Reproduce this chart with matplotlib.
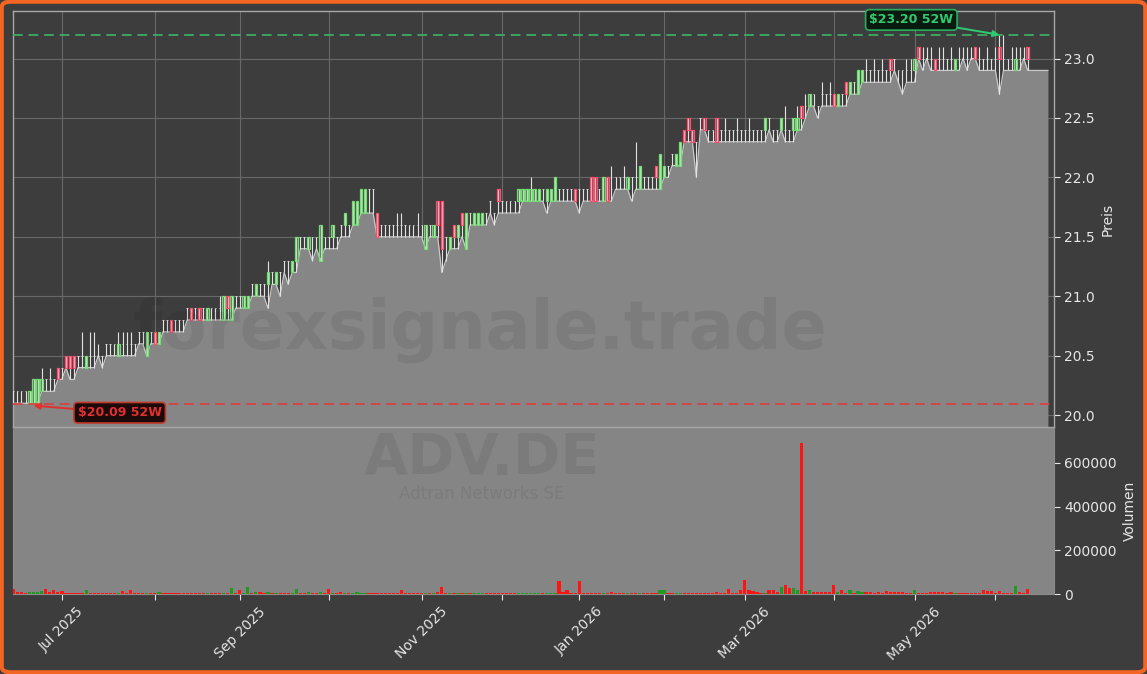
import numpy as np
import pandas as pd
import matplotlib
matplotlib.use('Agg')
import matplotlib.pyplot as plt
from matplotlib.patches import FancyBboxPatch
from matplotlib.ticker import FuncFormatter

# ---------------- data ----------------
holidays = ['2025-12-24', '2025-12-25', '2025-12-26', '2025-12-31',
            '2026-01-01', '2026-04-03', '2026-04-06', '2026-05-01']
dates = pd.bdate_range('2025-06-13', '2026-06-18')
dates = dates[~dates.isin(pd.to_datetime(holidays))]

opens = [
 20.2,20.2,20.2,20.2,20.1,20.1,20.1,20.2,20.3,20.3,
 20.3,20.4,20.4,20.5,20.5,20.5,20.5,20.5,20.4,20.5,
 20.5,20.5,20.5,20.6,20.6,20.6,20.5,20.6,20.6,20.6,
 20.6,20.7,20.7,20.5,20.7,20.7,20.6,20.8,20.8,20.8,
 20.8,20.8,20.8,20.9,20.9,20.9,20.9,20.9,20.8,20.9,
 20.9,20.9,20.8,21.0,20.8,21.0,21.0,20.9,20.9,21.1,
 21.0,21.1,21.1,21.1,21.2,21.1,21.2,21.3,21.3,21.2,
 21.3,21.5,21.5,21.4,21.5,21.5,21.3,21.5,21.5,21.5,
 21.5,21.6,21.6,21.6,21.6,21.6,21.7,21.7,21.9,21.9,
 21.7,21.6,21.6,21.6,21.6,21.6,21.6,21.6,21.6,21.6,
 21.6,21.6,21.4,21.6,21.5,21.8,21.8,21.5,21.4,21.6,
 21.5,21.7,21.4,21.7,21.6,21.6,21.6,21.7,21.8,21.7,
 21.9,21.8,21.8,21.8,21.8,21.8,21.8,21.8,21.8,21.8,
 21.8,21.9,21.8,21.8,21.8,21.9,21.9,21.9,21.9,21.9,
 21.9,21.9,21.9,22.0,22.0,21.9,21.8,22.0,21.9,22.0,
 22.0,22.0,21.9,22.0,22.0,21.9,22.0,22.0,22.0,22.1,
 21.9,22.0,22.1,22.2,22.1,22.1,22.4,22.5,22.4,22.3,
 22.5,22.5,22.4,22.4,22.5,22.4,22.4,22.4,22.4,22.4,
 22.4,22.4,22.4,22.4,22.4,22.4,22.4,22.5,22.4,22.4,
 22.4,22.4,22.4,22.4,22.4,22.6,22.6,22.6,22.7,22.6,
 22.7,22.7,22.7,22.7,22.6,22.7,22.8,22.7,22.8,22.7,
 22.8,22.9,22.9,22.9,22.9,22.9,22.9,23.0,23.0,22.9,
 22.9,22.9,22.9,22.9,23.1,23.0,23.0,23.0,23.0,23.0,
 23.0,23.0,23.0,22.9,23.0,23.0,23.0,23.0,23.1,23.0,
 23.0,23.0,23.0,23.0,23.1,23.0,23.0,23.0,22.9,23.0,
 23.0,23.1,22.9,22.9,22.9,22.9,22.9]
highs = [
 20.2,20.2,20.2,20.2,20.2,20.3,20.3,20.4,20.3,20.4,
 20.3,20.4,20.4,20.5,20.5,20.5,20.5,20.7,20.5,20.7,
 20.7,20.6,20.5,20.6,20.6,20.6,20.7,20.7,20.7,20.7,
 20.6,20.7,20.7,20.7,20.7,20.7,20.7,20.8,20.8,20.8,
 20.8,20.8,20.8,20.9,20.9,20.9,20.9,20.9,20.9,20.9,
 20.9,21.0,21.0,21.0,21.0,21.0,21.0,21.0,21.0,21.1,
 21.1,21.1,21.1,21.3,21.2,21.2,21.2,21.3,21.3,21.3,
 21.5,21.5,21.5,21.5,21.5,21.5,21.6,21.5,21.5,21.6,
 21.5,21.6,21.7,21.6,21.8,21.8,21.9,21.9,21.9,21.9,
 21.7,21.6,21.6,21.6,21.6,21.7,21.7,21.6,21.6,21.6,
 21.7,21.6,21.6,21.6,21.6,21.8,21.8,21.5,21.5,21.6,
 21.6,21.7,21.7,21.7,21.7,21.7,21.7,21.7,21.8,21.7,
 21.9,21.8,21.8,21.8,21.8,21.9,21.9,21.9,22.0,21.9,
 21.9,21.9,21.9,21.9,22.0,21.9,21.9,21.9,21.9,21.9,
 21.9,21.9,21.9,22.0,22.0,21.9,22.0,22.0,22.1,22.0,
 22.0,22.1,22.0,22.0,22.3,22.1,22.0,22.0,22.0,22.1,
 22.2,22.1,22.1,22.2,22.2,22.3,22.4,22.5,22.4,22.3,
 22.5,22.5,22.4,22.4,22.5,22.4,22.5,22.4,22.4,22.5,
 22.4,22.4,22.5,22.4,22.4,22.4,22.5,22.5,22.4,22.4,
 22.5,22.6,22.4,22.5,22.6,22.6,22.7,22.7,22.7,22.6,
 22.8,22.7,22.8,22.7,22.7,22.7,22.8,22.8,22.8,22.9,
 22.9,23.0,22.9,23.0,22.9,23.0,22.9,23.0,23.0,22.9,
 22.9,23.0,23.0,23.0,23.1,23.1,23.1,23.1,23.0,23.1,
 23.1,23.0,23.1,23.0,23.1,23.1,23.1,23.1,23.1,23.1,
 23.0,23.1,23.0,23.1,23.2,23.2,23.0,23.1,23.1,23.1,
 23.1,23.1,22.9,22.9,22.9,22.9,22.9]
lows = [
 20.1,20.1,20.1,20.1,20.1,20.09,20.1,20.2,20.2,20.2,
 20.2,20.3,20.3,20.4,20.3,20.3,20.4,20.4,20.4,20.4,
 20.4,20.5,20.4,20.5,20.5,20.5,20.5,20.5,20.5,20.5,
 20.5,20.6,20.6,20.5,20.6,20.6,20.6,20.7,20.7,20.7,
 20.7,20.7,20.7,20.8,20.8,20.8,20.8,20.8,20.8,20.8,
 20.8,20.8,20.8,20.8,20.8,20.9,20.9,20.9,20.9,21.0,
 21.0,21.0,21.0,20.9,21.1,21.1,21.0,21.2,21.1,21.2,
 21.2,21.4,21.4,21.4,21.3,21.4,21.3,21.4,21.4,21.4,
 21.4,21.5,21.5,21.5,21.6,21.6,21.7,21.7,21.7,21.7,
 21.5,21.5,21.5,21.5,21.5,21.5,21.5,21.5,21.5,21.5,
 21.5,21.5,21.4,21.5,21.5,21.5,21.2,21.3,21.4,21.4,
 21.4,21.5,21.4,21.6,21.6,21.6,21.6,21.6,21.7,21.6,
 21.7,21.7,21.7,21.7,21.7,21.7,21.8,21.8,21.8,21.8,
 21.8,21.8,21.7,21.8,21.8,21.8,21.8,21.8,21.8,21.8,
 21.7,21.8,21.8,21.8,21.8,21.8,21.8,21.8,21.8,21.9,
 21.9,21.9,21.9,21.8,21.9,21.9,21.9,21.9,21.9,21.9,
 21.9,22.0,22.0,22.1,22.1,22.1,22.3,22.3,22.3,22.0,
 22.4,22.4,22.3,22.3,22.3,22.3,22.3,22.3,22.3,22.3,
 22.3,22.3,22.3,22.3,22.3,22.3,22.3,22.4,22.3,22.3,
 22.4,22.3,22.3,22.3,22.4,22.4,22.5,22.6,22.6,22.5,
 22.6,22.6,22.6,22.6,22.6,22.6,22.6,22.7,22.7,22.7,
 22.8,22.8,22.8,22.8,22.8,22.8,22.8,22.8,22.9,22.8,
 22.7,22.8,22.8,22.8,23.0,22.9,23.0,22.9,22.9,22.9,
 22.9,22.9,22.9,22.9,22.9,23.0,22.9,23.0,23.0,22.9,
 22.9,22.9,22.9,22.9,22.7,22.9,22.9,22.9,22.9,22.9,
 23.0,22.9,22.9,22.9,22.9,22.9,22.9]
closes = [
 20.2,20.2,20.2,20.2,20.2,20.3,20.3,20.3,20.3,20.3,
 20.3,20.3,20.4,20.4,20.4,20.4,20.5,20.5,20.5,20.5,
 20.5,20.5,20.5,20.6,20.6,20.6,20.6,20.6,20.6,20.6,
 20.6,20.7,20.7,20.7,20.7,20.6,20.7,20.8,20.8,20.7,
 20.8,20.8,20.8,20.9,20.8,20.9,20.8,20.9,20.9,20.9,
 20.9,20.9,21.0,20.9,21.0,21.0,21.0,21.0,21.0,21.1,
 21.1,21.1,21.1,21.2,21.2,21.2,21.2,21.3,21.3,21.3,
 21.5,21.5,21.5,21.5,21.5,21.5,21.6,21.5,21.5,21.6,
 21.5,21.6,21.7,21.6,21.8,21.8,21.9,21.9,21.9,21.9,
 21.5,21.6,21.6,21.6,21.6,21.6,21.6,21.6,21.6,21.6,
 21.6,21.6,21.6,21.6,21.6,21.6,21.4,21.5,21.5,21.5,
 21.6,21.6,21.7,21.7,21.7,21.7,21.7,21.7,21.8,21.7,
 21.8,21.8,21.8,21.8,21.8,21.9,21.9,21.9,21.9,21.9,
 21.9,21.9,21.9,21.9,22.0,21.9,21.9,21.9,21.9,21.8,
 21.9,21.9,21.9,21.8,21.8,21.9,22.0,21.8,21.9,22.0,
 22.0,22.0,22.0,22.0,22.0,22.1,22.0,22.0,22.0,22.0,
 22.2,22.1,22.1,22.2,22.2,22.3,22.3,22.4,22.3,22.3,
 22.5,22.4,22.4,22.4,22.3,22.4,22.4,22.4,22.4,22.4,
 22.4,22.4,22.4,22.4,22.4,22.4,22.5,22.5,22.4,22.4,
 22.5,22.4,22.4,22.5,22.5,22.5,22.6,22.7,22.7,22.6,
 22.7,22.7,22.7,22.6,22.7,22.7,22.7,22.8,22.8,22.9,
 22.9,22.9,22.9,22.9,22.9,22.9,22.9,22.9,23.0,22.9,
 22.9,22.9,22.9,23.0,23.0,23.0,23.0,23.0,22.9,23.0,
 23.0,23.0,23.0,23.0,23.0,23.0,23.0,23.0,23.0,23.0,
 23.0,23.0,23.0,23.0,23.0,23.0,23.0,23.0,23.0,23.0,
 23.0,23.0,22.9,22.9,22.9,22.9,22.9]
volumes = [
 25000,8000,8000,6000,9000,10000,10000,14000,21000,8000,
 20000,10000,12000,6000,5000,5000,5000,5000,20000,6000,
 4000,4000,4000,5000,4000,4000,6000,12000,4000,20000,
 5000,4000,4000,4000,5000,5000,10000,4000,3000,5000,
 3000,4000,3000,3000,3000,5000,3000,3000,4000,3000,
 3000,3000,5000,3000,26000,5000,17000,5000,31000,4000,
 7000,7000,4000,9000,3000,3000,3000,3000,5000,4000,
 24000,4000,3000,10000,4000,4000,7000,3000,22000,3000,
 3000,7000,3000,3000,4000,9000,3000,6000,6000,6000,
 6000,3000,4000,3000,3000,3000,19000,4000,4000,4000,
 4000,3000,4000,3000,5000,8000,31000,5000,4000,3000,
 4000,3000,5000,3000,4000,4000,4000,3000,3000,3000,
 3000,3000,3000,3000,3000,3000,3000,3000,3000,3000,
 3000,3000,4000,4000,4000,58000,8000,17000,6000,5000,
 58000,5000,4000,4000,4000,3000,3000,4000,9000,3000,
 5000,4000,5000,4000,6000,5000,5000,3000,5000,6000,
 17000,17000,4000,3000,5000,4000,4000,3000,5000,3000,
 3000,4000,3000,4000,8000,4000,5000,24000,4000,3000,
 17000,62000,17000,15000,10000,6000,6000,17000,17000,8000,
 31000,40000,27000,26000,17000,691000,12000,17000,10000,10000,
 10000,8000,8000,40000,8000,20000,6000,17000,6000,14000,
 8000,8000,8000,6000,8000,5000,14000,8000,8000,8000,
 8000,6000,4000,20000,4000,4000,3000,8000,8000,8000,
 8000,6000,8000,5000,4000,6000,6000,6000,6000,6000,
 17000,14000,12000,5000,14000,5000,4000,6000,37000,10000,
 5000,24000,0,0,0,0,0]

high_52w = 23.20
low_52w = 20.09
ticker = 'ADV.DE'
company = 'Adtran Networks SE'
watermark = 'forexsignale.trade'

# ---------------- styling ----------------
BG = '#3d3d3d'
FILL = '#868686'
TXT = '#e6e6e6'
UP_EDGE = '#72dd72'
UP_FACE = (0.62, 0.85, 0.62, 0.35)
DN_EDGE = '#ff4d6d'
DN_FACE = (0.95, 0.55, 0.65, 0.35)
WICK = '#e2e2e2'

o = np.array(opens); h = np.array(highs); l = np.array(lows); c = np.array(closes)
v = np.array(volumes)
n = len(dates)
x = np.arange(n)

W, H = 1147, 674
fig = plt.figure(figsize=(W / 100, H / 100), dpi=100, facecolor=BG)
ax = fig.add_axes([13 / W, 1 - 427 / H, 1041 / W, 416 / H])
axv = fig.add_axes([13 / W, 1 - 594 / H, 1041 / W, 166 / H], sharex=ax)
ax.set_facecolor(BG)
axv.set_facecolor('#858585')

ymin, ymax = 19.90, 23.40
# area under the low line
ax.fill_between(x, l, ymin, color=FILL, zorder=2, lw=0)
ax.plot(x, l, color='#c9c9c9', lw=0.9, zorder=2.5)

# candles
up = c > o
dn = c < o
fl = (c == o) & (h > l)
ax.vlines(x[h > l], l[h > l], h[h > l], color=WICK, lw=0.8, zorder=3)
bw = 0.62
ax.bar(x[up], (c - o)[up], bottom=o[up], width=bw, facecolor=UP_FACE,
       edgecolor=UP_EDGE, lw=0.9, zorder=4)
ax.bar(x[dn], (o - c)[dn], bottom=c[dn], width=bw, facecolor=DN_FACE,
       edgecolor=DN_EDGE, lw=0.9, zorder=4)
ax.bar(x[fl], np.zeros(fl.sum()), bottom=c[fl], width=0.45, facecolor='none',
       edgecolor=WICK, lw=0.6, zorder=4)

# 52w lines
ax.axhline(high_52w, color='#3fae62', lw=1.4, ls=(0, (5, 3)), zorder=5, alpha=0.9)
ax.axhline(low_52w, color='#d84040', lw=1.4, ls=(0, (5, 3)), zorder=5, alpha=0.9)

ih = int(np.argmax(h))
il = int(np.argmin(l))
ax.annotate('\\$%.2f 52W' % high_52w, xy=(ih, high_52w), xytext=(ih - 21.8, 23.325),
            color='#2ecc71', fontsize=9, fontweight='bold', ha='center', va='center',
            bbox=dict(boxstyle='round,pad=0.3', fc='#0a1a0e', ec='#27ae60', lw=1.2),
            arrowprops=dict(arrowstyle='-|>', color='#2ecc71', lw=1.4,
                            mutation_scale=9, shrinkA=0, shrinkB=0), zorder=8)
ax.annotate('\\$%.2f 52W' % low_52w, xy=(il, low_52w - 0.01), xytext=(il + 21.3, 20.02),
            color='#e03030', fontsize=9, fontweight='bold', ha='center', va='center',
            bbox=dict(boxstyle='round,pad=0.3', fc='#1c0a0a', ec='#c0392b', lw=1.2),
            arrowprops=dict(arrowstyle='-|>', color='#e03030', lw=1.4,
                            mutation_scale=9, shrinkA=0, shrinkB=0), zorder=8)

ax.text(0.449, 0.233, watermark, transform=ax.transAxes, fontsize=48,
        fontweight='bold', color='black', alpha=0.07, ha='center', va='center', zorder=6)

ax.set_ylim(ymin, ymax)
ax.set_xlim(-0.1, n + 0.5)
ax.set_yticks(np.arange(20.0, 23.01, 0.5))
ax.yaxis.set_major_formatter(FuncFormatter(lambda val, p: '%.1f' % val))
ax.yaxis.tick_right()
ax.yaxis.set_label_position('right')
ax.set_ylabel('Preis', color=TXT, fontsize=10)
ax.grid(True, color='#686868', lw=0.8, zorder=0)
ax.set_axisbelow(True)
ax.tick_params(axis='y', colors=TXT, labelsize=10, length=4)
ax.tick_params(axis='x', which='both', bottom=False, labelbottom=False)
for s in ax.spines.values():
    s.set_color('#a8a8a8')
    s.set_linewidth(1.0)

# volume
vcol = np.where(c > o, '#1f9a1f', '#ff1414')
axv.bar(x, v, width=0.8, color=vcol, zorder=3)
axv.set_ylim(0, 760000)
axv.set_yticks([0, 200000, 400000, 600000])
axv.yaxis.set_major_formatter(FuncFormatter(lambda val, p: '%d' % val))
axv.yaxis.tick_right()
axv.yaxis.set_label_position('right')
axv.set_ylabel('Volumen', color=TXT, fontsize=10)
axv.tick_params(axis='y', colors=TXT, labelsize=10, length=4)
for s in axv.spines.values():
    s.set_color('#8c8c8c')

axv.text(0.45, 0.81, ticker, transform=axv.transAxes, fontsize=41, fontweight='bold',
         color='black', alpha=0.07, ha='center', va='center', zorder=1)
axv.text(0.45, 0.6, company, transform=axv.transAxes, fontsize=12,
         color='black', alpha=0.07, ha='center', va='center', zorder=1)

# month ticks
mt, ml = [], []
for i in range(1, n):
    if dates[i].month != dates[i - 1].month:
        mt.append(i)
        ml.append(dates[i].strftime('%b %Y') if dates[i].month % 2 == 1 else '')
axv.set_xticks(mt)
axv.set_xticklabels(ml, rotation=45, ha='center')
axv.tick_params(axis='x', colors=TXT, labelsize=10, length=4)

fig.patches.append(FancyBboxPatch((0.0015, 0.0025), 0.997, 0.995,
                                  boxstyle='round,pad=0,rounding_size=0.008',
                                  transform=fig.transFigure, fc='none',
                                  ec='#f26522', lw=3, zorder=10))

fig.savefig('out.png', dpi=100, facecolor=BG)
